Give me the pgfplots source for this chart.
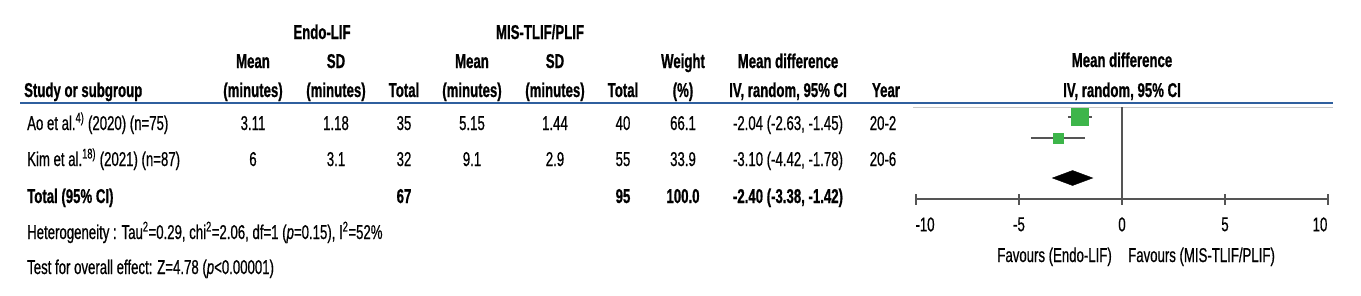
\documentclass[border=0pt]{standalone}
\usepackage{fontspec}
\setmainfont{Liberation Sans}[FakeStretch=0.66, UprightFeatures={FakeBold=0.6}, ItalicFeatures={FakeBold=0.6}, BoldFeatures={FakeBold=0.8}]
\usepackage{pgfplots}
\pgfplotsset{compat=1.18}
\definecolor{fgreen}{HTML}{3DB54A}
\definecolor{lblue}{HTML}{2F5F9E}
\definecolor{axgray}{HTML}{555555}
\definecolor{lgray}{HTML}{C8C8C8}
\begin{document}
\fontsize{20}{24}\selectfont
\begin{tikzpicture}
\begin{scope}[x=1pt,y=-1pt, every node/.style={inner sep=0pt, font=\fontsize{20}{24}\selectfont}]
% header
\node[anchor=base] at (322,39) {\textbf{Endo-LIF}};
\node[anchor=base] at (540,39) {\textbf{MIS-TLIF/PLIF}};
\node[anchor=base] at (253,68) {\textbf{Mean}};
\node[anchor=base] at (336,68) {\textbf{SD}};
\node[anchor=base] at (472,68) {\textbf{Mean}};
\node[anchor=base] at (555,68) {\textbf{SD}};
\node[anchor=base] at (683,68) {\textbf{Weight}};
\node[anchor=base] at (788,68) {\textbf{Mean difference}};
\node[anchor=base] at (1122,67) {\textbf{Mean difference}};
\node[anchor=base west] at (24,97) {\textbf{Study or subgroup}};
\node[anchor=base] at (253,97) {\textbf{(minutes)}};
\node[anchor=base] at (336,97) {\textbf{(minutes)}};
\node[anchor=base] at (404,97) {\textbf{Total}};
\node[anchor=base] at (472,97) {\textbf{(minutes)}};
\node[anchor=base] at (555,97) {\textbf{(minutes)}};
\node[anchor=base] at (623,97) {\textbf{Total}};
\node[anchor=base] at (683,97) {\textbf{(\%)}};
\node[anchor=base] at (788,97) {\textbf{IV, random, 95\% CI}};
\node[anchor=base] at (886,97) {\textbf{Year}};
\node[anchor=base] at (1122,97) {\textbf{IV, random, 95\% CI}};
\draw[lblue, line width=1.8pt] (20,103) -- (1333,103);
\draw[lgray, line width=1pt] (913,107) -- (1333,107);
% rows
\node[anchor=base west] at (27,130) {Ao et al.\textsuperscript{4)} (2020) (n=75)};
\node[anchor=base] at (253,130) {3.11};
\node[anchor=base] at (336,130) {1.18};
\node[anchor=base] at (404,130) {35};
\node[anchor=base] at (472,130) {5.15};
\node[anchor=base] at (555,130) {1.44};
\node[anchor=base] at (623,130) {40};
\node[anchor=base] at (683,130) {66.1};
\node[anchor=base] at (788,130) {-2.04 (-2.63, -1.45)};
\node[anchor=base] at (883,130) {20-2};
\node[anchor=base west] at (27,166) {Kim et al.\textsuperscript{18)} (2021) (n=87)};
\node[anchor=base] at (253,166) {6};
\node[anchor=base] at (336,166) {3.1};
\node[anchor=base] at (404,166) {32};
\node[anchor=base] at (472,166) {9.1};
\node[anchor=base] at (555,166) {2.9};
\node[anchor=base] at (623,166) {55};
\node[anchor=base] at (683,166) {33.9};
\node[anchor=base] at (788,166) {-3.10 (-4.42, -1.78)};
\node[anchor=base] at (883,166) {20-6};
\node[anchor=base west] at (27,203) {\textbf{Total (95\% CI)}};
\node[anchor=base] at (404,203) {\textbf{67}};
\node[anchor=base] at (623,203) {\textbf{95}};
\node[anchor=base] at (683,203) {\textbf{100.0}};
\node[anchor=base] at (788,203) {\textbf{-2.40 (-3.38, -1.42)}};
\node[anchor=base west] at (27,239) {Heterogeneity : Tau\textsuperscript{2}=0.29, chi\textsuperscript{2}=2.06, df=1 (\textit{p}=0.15), I\textsuperscript{2}=52\%};
\node[anchor=base west] at (27,274) {Test for overall effect: Z=4.78 (\textit{p}<0.00001)};
\node[anchor=base east] at (1112,262) {Favours (Endo-LIF)};
\node[anchor=base west] at (1128,262) {Favours (MIS-TLIF/PLIF)};
\end{scope}
\begin{axis}[
  at={(916pt,-199pt)}, anchor=south west,
  scale only axis, width=412pt, height=92pt,
  xmin=-10, xmax=10, ymin=0, ymax=92,
  clip=false,
  axis y line=none, axis x line*=bottom,
  axis line style={draw=axgray, line width=1.8pt},
  xtick={-10,-5,0,5,10},
  xticklabels={{\hspace*{18pt}-10},-5,0,5,{10\hspace*{16pt}}},
  tick align=center, major tick length=11pt,
  every tick/.style={draw=axgray, line width=1.6pt},
  xticklabel style={font=\fontsize{20}{24}\selectfont, anchor=north, yshift=-6pt},
]
\addplot[axgray, line width=1.4pt] coordinates {(0,0) (0,92)};
\addplot[axgray, line width=1.4pt] coordinates {(-2.63,82) (-1.45,82)};
\addplot[axgray, line width=1.4pt] coordinates {(-4.42,61) (-1.78,61)};
\addplot[only marks, mark=square*, mark size=8.5pt, color=fgreen] coordinates {(-2.04,82)};
\addplot[only marks, mark=square*, mark size=4.8pt, color=fgreen] coordinates {(-3.10,61)};
\addplot[fill=black, draw=black] coordinates {(-3.38,21) (-2.40,28.5) (-1.42,21) (-2.40,13.5)} -- cycle;
\end{axis}
\pgfresetboundingbox
\path[use as bounding box] (0,0) rectangle (1361pt,-295pt);
\end{tikzpicture}
\end{document}
